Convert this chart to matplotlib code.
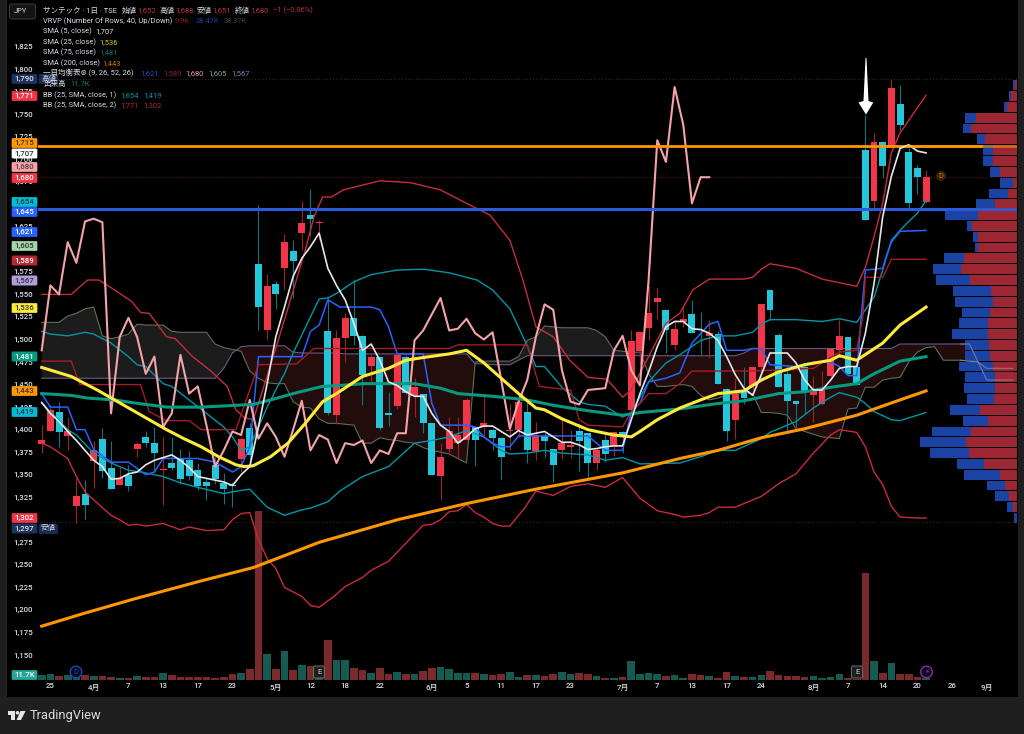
import numpy as np
import matplotlib
matplotlib.use("Agg")
import matplotlib.pyplot as plt
from matplotlib.patches import Rectangle, Polygon, Circle, FancyBboxPatch

plt.rcParams['font.family'] = ['Roboto', 'Noto Sans CJK JP', 'DejaVu Sans']

# daily candles, bar index 0..102
opens = [1384,1398,1420,1393,1315,1329,1365,1390,1357,1339,
         1350,1379,1392,1385,1355,1363,1367,1366,1355,1342,
         1361,1341,1339,1367,1402,1584,1510,1562,1579,1598,
         1618,1638,1629,1509,1416,1502,1524,1504,1471,1481,
         1419,1426,1481,1437,1440,1407,1349,1379,1385,1389,
         1403,1404,1400,1391,1398,1400,1420,1376,1393,1378,
         1377,1381,1398,1396,1363,1388,1382,1397,1422,1487,
         1513,1542,1533,1494,1519,1528,1501,1504,1506,1445,
         1411,1444,1448,1469,1555,1505,1462,1432,1470,1438,
         1428,1459,1488,1503,1469,1710,1654,1719,1714,1761,
         1708,1690,1652]
highs = [1405,1427,1431,1414,1346,1344,1387,1402,1387,1359,
         1361,1386,1399,1403,1392,1392,1378,1376,1363,1348,
         1370,1352,1342,1392,1407,1649,1573,1565,1617,1610,
         1654,1667,1632,1546,1510,1529,1566,1505,1483,1481,
         1442,1483,1483,1457,1440,1407,1385,1414,1414,1435,
         1404,1439,1401,1392,1429,1440,1431,1409,1396,1378,
         1413,1400,1407,1396,1379,1395,1398,1398,1511,1508,
         1559,1557,1533,1522,1536,1544,1530,1522,1509,1446,
         1457,1470,1471,1539,1555,1507,1471,1432,1472,1459,
         1465,1489,1522,1503,1470,1749,1729,1719,1789,1782,
         1712,1694,1688]
lows = [1374,1398,1381,1377,1296,1301,1335,1346,1334,1339,
        1332,1370,1381,1353,1316,1355,1340,1344,1333,1322,
        1340,1318,1314,1353,1359,1510,1499,1534,1555,1546,
        1599,1615,1610,1416,1406,1475,1494,1427,1453,1400,
        1404,1423,1440,1414,1396,1350,1322,1372,1368,1388,
        1360,1392,1377,1345,1377,1392,1363,1366,1370,1342,
        1367,1368,1354,1346,1355,1364,1371,1374,1418,1473,
        1499,1523,1485,1488,1514,1507,1483,1479,1451,1387,
        1390,1429,1444,1457,1522,1447,1398,1403,1418,1409,
        1427,1458,1481,1461,1450,1632,1645,1679,1714,1732,
        1645,1661,1651]
closes = [1389,1422,1397,1398,1326,1316,1377,1354,1334,1346,
          1337,1384,1385,1374,1356,1357,1345,1349,1337,1337,
          1345,1334,1337,1390,1372,1536,1559,1550,1608,1587,
          1629,1634,1630,1418,1502,1524,1504,1461,1481,1402,
          1416,1483,1441,1447,1407,1350,1370,1398,1394,1433,
          1389,1407,1391,1370,1400,1431,1377,1394,1387,1361,
          1385,1383,1387,1363,1377,1373,1397,1394,1498,1508,
          1529,1546,1510,1512,1523,1507,1500,1507,1451,1399,
          1440,1435,1470,1539,1533,1447,1432,1429,1443,1444,
          1445,1489,1504,1462,1450,1632,1719,1692,1779,1738,
          1651,1680,1680]
volumes = [33,44,30,33,26,33,30,30,21,16,
           16,30,23,21,49,33,19,23,23,23,
           12,23,44,47,75,1186,184,75,200,68,
           103,96,91,282,142,137,86,68,47,84,
           44,56,40,40,65,82,91,75,49,49,
           49,40,33,40,56,21,33,33,28,40,
           56,40,47,40,30,16,16,21,133,40,
           47,40,30,35,16,40,35,26,16,56,
           30,21,21,33,61,33,30,26,21,30,
           12,21,40,16,9,748,133,47,121,42,
           42,23,11.7]

# moving averages and bands, read as (bar, price) vertices
sma5 = [1430,1418,1409,1398,1388,1377,1366,1359,1345,1346,
        1351,1353,1361,1366,1369,1372,1366,1358,1348,1346,
        1344,1342,1338,1350,1359,1403,1451,1503,1536,1570,
        1590,1603,1618,1579,1560,1544,1518,1488,1495,1477,
        1453,1449,1442,1437,1437,1418,1405,1398,1385,1392,
        1401,1404,1404,1398,1392,1399,1394,1396,1398,1392,
        1386,1386,1383,1378,1379,1381,1382,1382,1411,1440,
        1464,1492,1514,1520,1520,1512,1511,1507,1499,1481,
        1461,1446,1438,1461,1485,1485,1485,1474,1455,1444,
        1444,1455,1468,1470,1470,1507,1562,1636,1681,1712,
        1716,1709,1707]
sma25_x = [0,3.4,6.4,8.4,10.4,12.4,14.4,16.4,18.4,20.4,22.4,23.4,24.4,26.4,28.4,30.4,32.4,34,37,40,42,44,47,49,51,53,55,57,58,60,63,66,68,69,71,73.6,76,78,81,83,85,88,91,92,94,97,99,102]
sma25_y = [1469,1459,1444,1433,1422,1411,1400,1390,1381,1370,1361,1359,1360,1370,1385,1407,1431,1440,1459,1468,1477,1480,1484,1488,1474,1457,1440,1424,1422,1412,1400,1394,1392,1398,1411,1424,1433,1440,1443,1455,1464,1472,1477,1482,1477,1496,1516,1536]
sma75_x = [0,3.4,5.3,8.4,10.4,14.4,18.4,22.4,24.4,26.4,29.4,32.4,34.4,37,40,43,46,48,52,56,59,63,67,69,73.6,78,81,85,88,91,94,96,99,102]
sma75_y = [1440,1438,1435,1433,1430,1425,1425,1427,1428,1433,1441,1448,1449,1451,1451,1451,1446,1440,1437,1433,1427,1421,1416,1419,1423,1429,1432,1440,1442,1447,1451,1462,1476,1481]
sma200_x = [0,4.8,10.6,18.3,24.4,32,41,49,57,67,73.6,78,83,88,94,99,102]
sma200_y = [1182,1196,1212,1232,1247,1275,1300,1318,1334,1352,1368,1377,1391,1401,1416,1433,1443]

bb2_up_x = [0,3.4,5.3,6.6,8.4,10.4,11.4,12.4,14.4,15.4,17.4,19.4,21.4,22.4,23.4,24.4,27,30.4,31.4,32.4,33.4,34.8,39,42.5,46,49.4,51.7,54,55.5,57,59,60.9,63,65.2,67,68,70,72,73.6,75.1,77,81,82,83,84,87,90,94,95,96,97,98,99,100,102]
bb2_up_y = [1550,1550,1566,1566,1555,1542,1530,1529,1503,1501,1481,1466,1448,1422,1413,1411,1490,1599,1636,1658,1658,1666,1676,1674,1666,1649,1638,1610,1566,1514,1503,1477,1458,1456,1436,1444,1481,1518,1529,1555,1567,1567,1569,1578,1584,1579,1567,1559,1580,1614,1651,1707,1729,1743,1771]
bb2_lo_x = [0,1,3,4,5,6,8,9,10,11,12,14,16,17,19,21,22,23,24,25,26,27,28,30,31,32,33.7,35,37,38,40,42,44,45,46,47,48,49,50,51,52,53,54,55.7,57,59,61,63,65,67,69,71,73,74,76,77,78,80,83,85,87,89,91,92,94,95,96,97,98,99,101,102]
bb2_lo_y = [1385,1381,1368,1348,1331,1322,1305,1300,1294,1295,1293,1296,1289,1292,1288,1289,1300,1307,1308,1278,1257,1246,1225,1215,1205,1203,1215,1226,1236,1244,1254,1274,1294,1295,1300,1309,1310,1317,1308,1303,1296,1293,1293,1313,1332,1327,1337,1340,1336,1347,1324,1310,1306,1303,1305,1308,1314,1314,1326,1340,1351,1374,1394,1400,1397,1381,1353,1339,1315,1303,1302,1302]
bb1_up_x = [0,1,3,5,6,8,10,11,12,14,15,17,19,21,22,23,24,25,26,27,28,29,30,31,32,33,34,36,38,41,44,47,50.2,52,54,56,57,58,60,62,63,65,67,68,70,72,73.6,76,78,80,82,83,84,87,90,92,94,95,96,97,98,99,100,101,102]
bb1_up_y = [1509,1506,1504,1508,1506,1496,1481,1472,1470,1451,1448,1433,1418,1403,1392,1377,1381,1403,1425,1444,1462,1485,1505,1525,1545,1546,1551,1564,1572,1577,1578,1574,1566,1555,1534,1493,1470,1470,1447,1431,1428,1426,1414,1419,1453,1474,1483,1499,1504,1504,1508,1517,1522,1522,1520,1523,1519,1533,1547,1577,1610,1621,1631,1640,1654]
bb1_lo_x = [0,1,3,4,6,8,10,12,14,16,18,21,22,24,25,26,28,30,31,33,34.4,37,40,43,45,47,49,51,53,54,56,58,60,63,65,67,69,73.6,76,78,80,83,84,87,89,91,92,94,95,96,98,99,102]
bb1_lo_y = [1430,1420,1400,1394,1374,1363,1355,1352,1348,1341,1336,1329,1331,1334,1324,1314,1305,1311,1313,1320,1332,1348,1359,1385,1388,1392,1399,1392,1377,1373,1374,1377,1374,1372,1366,1369,1362,1363,1370,1377,1377,1390,1397,1409,1424,1436,1441,1436,1429,1420,1411,1410,1419]

# ichimoku
tenkan_x = [0,1,3,4,5,6,8,10,12,13,14,18,20,22,23,24,25,30,31,32,33,34.4,38,39,40,41,44,45,46,49,50,51,52,53,54,55,60,63,64,65,67,68,69,70,72,73.6,75,77,78,79,81,82,83,84,87,89,91,92,93,94,94.5,95,97,97.4,98,99,102]
tenkan_y = [1440,1425,1425,1400,1400,1378,1364,1364,1350,1353,1368,1368,1364,1353,1359,1381,1481,1481,1509,1516,1544,1536,1536,1533,1514,1484,1484,1429,1405,1405,1403,1392,1385,1381,1381,1393,1393,1393,1385,1377,1377,1420,1429,1453,1457,1463,1496,1517,1520,1488,1488,1490,1490,1472,1470,1475,1475,1470,1460,1460,1523,1577,1579,1592,1608,1620,1621]
kijun_x = [0,3.4,4.4,11.4,12.4,14.4,17,18.4,22.4,25,29.4,31.4,34.4,47,48,56,57.4,60,61,62,63,67,68,69,70,72,73.6,75,82,89,92,94,94.7,95,97,98,102]
kijun_y = [1476,1476,1450,1450,1420,1410,1410,1400,1400,1472,1473,1490,1490,1490,1494,1494,1448,1445,1444,1411,1405,1403,1420,1429,1440,1440,1451,1465,1465,1468,1486,1488,1525,1569,1569,1589,1589]
lagging = [1488,1560,1550,1608,1585,1631,1634,1630,1418,1503,
           1524,1503,1462,1481,1403,1418,1483,1440,1448,1405,
           1359,1377,1398,1394,1433,1390,1407,1392,1370,1400,
           1432,1377,1394,1389,1363,1385,1383,1388,1363,1377,
           1373,1396,1396,1499,1510,1528,1546,1510,1512,1523,
           1507,1500,1508,1455,1401,1431,1455,1503,1539,1533,
           1466,1431,1428,1444,1445,1446,1488,1504,1466,1449,
           1566,1721,1697,1780,1738,1651,1680,1680]
span_a = [1519,1519,1519,1526,1529,1534,1536,1504,1501,1503,
          1506,1517,1516,1516,1516,1509,1508,1508,1508,1508,
          1495,1491,1489,1487,1465,1457,1452,1451,1451,1431,
          1425,1424,1412,1407,1407,1406,1405,1385,1385,1391,
          1389,1388,1386,1385,1380,1377,1375,1373,1368,1363,
          1475,1476,1476,1476,1476,1481,1499,1503,1515,1514,
          1513,1513,1513,1513,1510,1503,1488,1487,1486,1486,
          1462,1448,1448,1449,1450,1448,1438,1433,1435,1438,
          1440,1441,1440,1419,1419,1418,1416,1401,1398,1395,
          1392,1391,1390,1423,1424,1447,1447,1455,1457,1458,
          1475,1486,1491,1492,1477,1477,1477,1476,1475,1468,
          1468,1468,1468]
span_b = [1457,1457,1457,1457,1457,1457,1457,1457,1457,1457,
          1457,1457,1457,1457,1457,1457,1457,1457,1457,1457,
          1457,1468,1485,1492,1493,1493,1493,1493,1493,1486,
          1485,1485,1485,1485,1485,1484,1484,1484,1484,1484,
          1484,1484,1484,1484,1484,1484,1484,1484,1484,1484,
          1473,1473,1472,1472,1472,1477,1482,1482,1482,1482,
          1482,1482,1482,1482,1482,1482,1482,1482,1482,1482,
          1482,1482,1482,1482,1482,1482,1482,1482,1482,1482,
          1482,1485,1490,1490,1490,1490,1490,1490,1490,1490,
          1490,1490,1490,1490,1490,1490,1490,1490,1490,1495,
          1495,1495,1495,1495,1495,1495,1495,1495,1475,1455,
          1455,1455,1455]

# volume profile rows, from the top row down
vrvp_up = [5,18,31,123,138,96,73,71,51,11,26,65,116,135,116,116,158,168,140,78,73,
           80,88,86,85,80,71,65,66,70,110,86,138,153,143,98,51,35,25,11,0]
vrvp_down = [8,7,7,32,25,24,30,30,30,40,57,58,100,16,17,10,60,83,103,115,113,
             86,85,110,71,76,104,90,92,81,91,77,118,137,118,83,107,55,40,20,8]

# 1,650 / 1,600 / 1,300 sit fully under the axis tags
price_ticks = [p for p in range(1150, 1850, 25) if p not in (1650, 1600, 1300)]
time_pos = [1,6,10,14,18,22,27,31,35,39,45,49,53,57,61,67,71,75,79,83,89,93,97,101,105,109]
time_labels = ['25','4月','7','13','17','23','5月','12','18','22','6月','5','11','17','23',
               '7月','7','13','17','24','8月','7','14','20','26','9月']

W, H = 1024, 734
UP = '#f23649'
DOWN = '#25c6da'
UP_WICK = '#a01f2b'
DOWN_WICK = '#0e7480'
GRID_TXT = '#d8dbe3'

fig = plt.figure(figsize=(W / 100, H / 100), dpi=100, facecolor='#1f1f1f')
fig.add_artist(Rectangle((7 / W, 1 - 696.5 / H), 1010.5 / W, 696.5 / H, transform=fig.transFigure,
                         facecolor='black', edgecolor='none', zorder=-5))

ax = fig.add_axes([38 / W, 1 - 680 / H, 979 / W, 680 / H])
ax.patch.set_alpha(0)
ax.set_xlim(-0.427, 112.49)
ax.set_ylim(1122.3, 1876.58)
for s in ax.spines.values():
    s.set_visible(False)
ax.set_yticks(price_ticks)
ax.set_yticklabels([f'{p:,}' for p in price_ticks], color=GRID_TXT, fontsize=5.7, fontweight='medium')
ax.set_xticks(time_pos)
ax.set_xticklabels(time_labels, color=GRID_TXT, fontsize=5.7, fontweight='medium')
ax.tick_params(length=0, axis='y', pad=3.5)
ax.tick_params(length=0, axis='x', pad=2.5)

# volume goes under the price lines
axv = ax.twinx()
axv.set_ylim(0, 680 * 7)
axv.axis('off')
bars = np.arange(len(opens))
opens, highs, lows, closes = map(np.array, (opens, highs, lows, closes))
vol_colors = ['#165a52' if c >= o else '#7a2a2d' for o, c in zip(opens, closes)]
axv.bar(bars, volumes, width=0.88, color=vol_colors)

# cloud
cx = np.arange(len(span_a))
sa, sb = np.array(span_a), np.array(span_b)
ax.fill_between(cx, sa, sb, where=sa >= sb, interpolate=True, color='#1c1c1c', lw=0, zorder=1)
ax.fill_between(cx, sa, sb, where=sa < sb, interpolate=True, color='#220c0c', lw=0, zorder=1)
ax.plot(cx, sa, color='#5f6f55', lw=0.8, zorder=2)
ax.plot(cx, sb, color='#6a5a85', lw=0.8, zorder=2)

# levels
ax.axhline(1715, color='#ff9800', lw=2.0, zorder=6)
ax.axhline(1644.5, color='#2a5bdc', lw=2.2, zorder=6)
ax.axhline(1789, color='#555555', lw=0.5, ls=(0, (1, 3)), zorder=2)
ax.axhline(1297.5, color='#555555', lw=0.5, ls=(0, (1, 3)), zorder=2)
ax.axhline(1680, color='#7a1f28', lw=0.6, ls=(0, (1, 2)), zorder=2)

# candles
up = closes >= opens
ax.vlines(bars[up], lows[up], highs[up], color=UP_WICK, lw=0.8, zorder=3)
ax.vlines(bars[~up], lows[~up], highs[~up], color=DOWN_WICK, lw=0.8, zorder=3)
ax.bar(bars[up], (closes - opens)[up], bottom=opens[up], width=0.8, color=UP, zorder=4)
ax.bar(bars[~up], (opens - closes)[~up], bottom=closes[~up], width=0.8, color=DOWN, zorder=4)

ax.plot(bb1_up_x, bb1_up_y, color='#0097a7', lw=1.0, zorder=5)
ax.plot(bb1_lo_x, bb1_lo_y, color='#0097a7', lw=1.0, zorder=5)
ax.plot(bb2_up_x, bb2_up_y, color='#c82c3c', lw=1.0, zorder=5)
ax.plot(bb2_lo_x, bb2_lo_y, color='#c82c3c', lw=1.0, zorder=5)
ax.plot(tenkan_x, tenkan_y, color='#2962ff', lw=1.1, zorder=5)
ax.plot(kijun_x, kijun_y, color='#a81c24', lw=1.0, zorder=5)
ax.plot(np.arange(len(lagging)), lagging, color='#f4a3a9', lw=1.5, zorder=5)
ax.plot(sma200_x, sma200_y, color='#ff9800', lw=2.2, zorder=6)
ax.plot(sma75_x, sma75_y, color='#089981', lw=2.2, zorder=6)
ax.plot(sma25_x, sma25_y, color='#ffeb3b', lw=2.2, zorder=6)
ax.plot(np.arange(len(sma5)), sma5, color='#e8e8e8', lw=1.2, zorder=7)

# volume profile, anchored on the right edge
axp = ax.twiny()
axp.set_xlim(979 * 3, 0)
axp.axis('off')
rows = 1782 - 12 * np.arange(len(vrvp_up))
axp.barh(rows, vrvp_up, height=10.9, color='#a62a36', alpha=0.95)
axp.barh(rows, vrvp_down, left=vrvp_up, height=10.9, color='#1c47ad', alpha=0.95)
# levels and cloud edges show faintly through the profile
axp.plot([0, 330], [1715, 1715], color='#ff9800', lw=2.0, alpha=0.55)
axp.plot([0, 330], [1644.5, 1644.5], color='#2a5bdc', lw=2.2, alpha=0.8)
axp.plot(cx[106:], sa[106:], transform=ax.transData, color='#b0a8a8', lw=0.8, alpha=0.5)
axp.plot(cx[106:], sb[106:], transform=ax.transData, color='#b0a8c8', lw=0.8, alpha=0.5)

axv.set_zorder(1)
ax.set_zorder(2)
axp.set_zorder(3)

# overlay in picture pixels for labels and markers
ov = fig.add_axes([0, 0, 1, 1], zorder=5)
ov.set_xlim(0, W)
ov.set_ylim(H, 0)
ov.axis('off')
ov.patch.set_alpha(0)

# axis tags: y, text, fill, text colour
tags = [(79, '1,790', '#1c3260', '#e0e0e0'), (96, '1,771', '#f23645', '#ffffff'),
        (143, '1,715', '#ff9800', '#333333'), (153.5, '1,707', '#ffffff', '#333333'),
        (167, '1,680', '#f7a1a8', '#444444'), (178, '1,680', '#f23645', '#ffffff'),
        (202, '1,654', '#00bcd4', '#333333'), (212, '1,645', '#2962ff', '#ffffff'),
        (232, '1,621', '#2962ff', '#ffffff'), (246, '1,605', '#a5d6a7', '#333333'),
        (260.5, '1,589', '#b22833', '#ffffff'), (280.5, '1,567', '#b39ddb', '#333333'),
        (308, '1,536', '#ffeb3b', '#333333'), (356.5, '1,481', '#089981', '#ffffff'),
        (391, '1,443', '#ff9800', '#333333'), (412, '1,419', '#00bcd4', '#333333'),
        (518, '1,302', '#f23645', '#ffffff'), (528.5, '1,297', '#1c3260', '#e0e0e0'),
        (675, '11.7K', '#26a69a', '#ffffff')]
for y, txt, bg, fg in tags:
    ov.add_patch(FancyBboxPatch((12, y - 4.6), 25, 9.2, boxstyle='round,pad=0,rounding_size=1',
                                fc=bg, ec=bg, lw=0.5))
    ov.text(24.5, y, txt, color=fg, fontsize=5.7, fontweight='medium', ha='center', va='center')
for y, txt in [(79, '高値'), (528.5, '安値')]:
    ov.add_patch(Rectangle((39, y - 5), 19, 10, fc='#1c3260', ec='none', alpha=0.85))
    ov.text(48.5, y, txt, color='#d8dbe3', fontsize=5.4, ha='center', va='center')

# symbol button
ov.add_patch(FancyBboxPatch((9.5, 4), 26, 15, boxstyle='round,pad=0,rounding_size=2.5',
                            fc='#141414', ec='#3a3a3a', lw=0.7))
ov.text(20.5, 11.5, 'JPY', color=GRID_TXT, fontsize=5.4, ha='center', va='center')

# legend rows: x, y, text, colour
WHITE = '#d8dbe3'
RED = '#c8313f'
legend = [
    (43, 10, 'サンテック · 1日 · TSE', WHITE), (122, 10, '始値', WHITE), (137, 10, '1,652', RED),
    (160, 10, '高値', WHITE), (175, 10, '1,688', RED), (197, 10, '安値', WHITE), (212, 10, '1,651', RED),
    (235, 10, '終値', WHITE), (250, 10, '1,680', RED), (273, 10, '−1 (−0.06%)', RED),
    (43, 20.7, 'VRVP (Number Of Rows, 40, Up/Down)', WHITE), (175, 20.7, '9.9K', '#8f1f28'),
    (196, 20.7, '28.47K', '#1e3f9e'), (224, 20.7, '38.37K', '#444444'),
    (43, 31.3, 'SMA (5, close)', WHITE), (95, 31.3, '1,707', '#e8e8e8'),
    (43, 41.7, 'SMA (25, close)', WHITE), (99, 41.7, '1,536', '#d8c81e'),
    (43, 52.3, 'SMA (75, close)', WHITE), (99, 52.3, '1,481', '#087f6d'),
    (43, 62.7, 'SMA (200, close)', WHITE), (102, 62.7, '1,443', '#c77800'),
    (43, 73.3, '一目均衡表⊛ (9, 26, 52, 26)', WHITE), (140, 73.3, '1,621', '#2450c8'),
    (163, 73.3, '1,589', '#8f1f28'), (185, 73.3, '1,680', '#e8a0a8'), (208, 73.3, '1,605', '#86b088'),
    (231, 73.3, '1,567', '#8d7ab5'),
    (43, 83.7, '出来高', WHITE), (70, 83.7, '11.7K', '#087f6d'),
    (43, 94.7, 'BB (25, SMA, close, 1)', WHITE), (120, 94.7, '1,654', '#0097a7'), (143, 94.7, '1,419', '#0097a7'),
    (43, 105, 'BB (25, SMA, close, 2)', WHITE), (120, 105, '1,771', '#b02a38'), (143, 105, '1,302', '#b02a38'),
]
for x, y, txt, col in legend:
    ov.text(x, y, txt, color=col, fontsize=5.45, ha='left', va='center')

# the white arrow
ov.add_patch(Polygon([(865.5, 58), (866.5, 58), (868.5, 101), (873.3, 102.5), (866, 114.5),
                      (858.5, 102.5), (863.5, 101)], closed=True, fc='white', ec='none'))

# event markers
ov.add_patch(Circle((76, 672), 5.8, fc='#050a1c', ec='#1e45b0', lw=1))
ov.text(76, 672, 'D', color='#1e45b0', fontsize=5.5, ha='center', va='center')
for x in (319, 857):
    ov.add_patch(FancyBboxPatch((x - 5.5, 666), 11, 12, boxstyle='round,pad=0,rounding_size=1.5',
                                fc='#1e1e1e', ec='#666666', lw=0.8))
    ov.text(x, 672, 'E', color='#cccccc', fontsize=5.5, ha='center', va='center')
ov.add_patch(Circle((926.5, 672), 5.8, fc='#14061c', ec='#7b2fa8', lw=1))
ov.text(926.5, 672, '⚡', color='#9a45c8', fontsize=5, ha='center', va='center')
ov.add_patch(Circle((941, 176), 5, fc='#3a2008', ec='none'))
ov.text(941, 176, 'D', color='#d87a18', fontsize=5.2, ha='center', va='center')

# footer logo
ov.add_patch(Polygon([(7.5, 711), (14.5, 711), (14.5, 720), (11, 720), (11, 714.5), (7.5, 714.5)],
                     closed=True, fc='#e6e6e6', ec='none'))
ov.add_patch(Circle((17.5, 712.8), 1.8, fc='#e6e6e6', ec='none'))
ov.add_patch(Polygon([(20.5, 711), (25.6, 711), (21, 720), (16.5, 720)], closed=True, fc='#e6e6e6', ec='none'))
ov.text(30, 715.5, 'TradingView', color='#dcdcdc', fontsize=9.3, ha='left', va='center')

fig.savefig('out.png', dpi=100, facecolor=fig.get_facecolor())
